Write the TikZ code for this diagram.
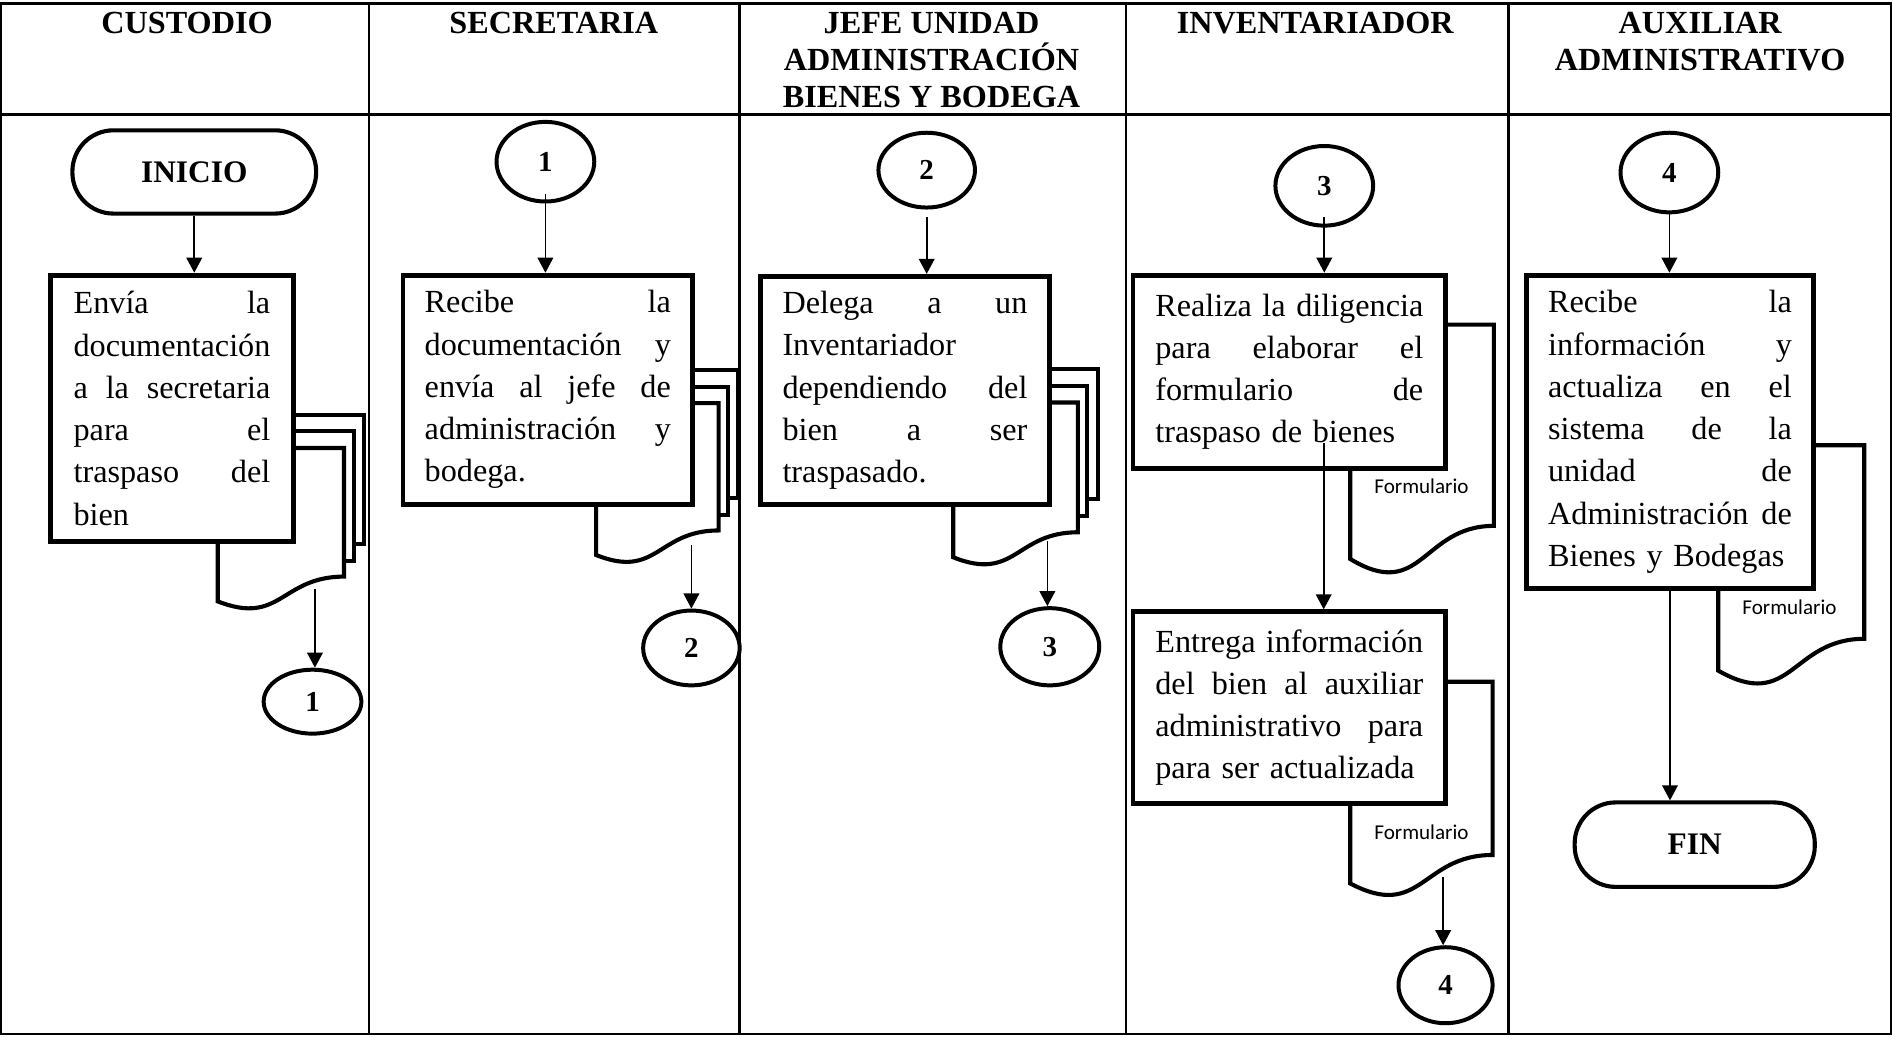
\documentclass[tikz,border=0pt]{standalone}
\usepackage{fontspec}
\setmainfont{Liberation Serif}
\newfontfamily\formfont{Carlito}
\usetikzlibrary{arrows.meta,shapes.geometric}

\newcommand\bodytext{\fontsize{26.7}{35}\selectfont}
\newcommand\headtext{\fontsize{26.7}{30.5}\selectfont\bfseries}
% one fully justified line inside a process box
\newcommand\jl[1]{\noindent\hbox to \hsize{\spaceskip=0.25em plus 1fil\relax #1}}

% Multiple-document symbol: #1,#2 = top left corner, #3 = width, #4 = height
\newcommand\multidoc[4]{%
  \draw[docline] ({#1+0.1376*#3},{#2+0.084*#4}) -- ({#1+0.1376*#3},#2) -- ({#1+#3},#2)
     -- ({#1+#3},{#2+0.666*#4}) -- ({#1+0.926*#3},{#2+0.666*#4});
  \draw[docline] ({#1+0.0709*#3},{#2+0.17*#4}) -- ({#1+0.0709*#3},{#2+0.084*#4}) -- ({#1+0.926*#3},{#2+0.084*#4})
     -- ({#1+0.926*#3},{#2+0.752*#4}) -- ({#1+0.861*#3},{#2+0.752*#4});
  \draw[docline, fill=white] (#1,{#2+0.17*#4}) -- ({#1+0.861*#3},{#2+0.17*#4}) -- ({#1+0.861*#3},{#2+0.834*#4})
     .. controls ({#1+0.4305*#3},{#2+0.834*#4}) and ({#1+0.4305*#3},{#2+1.09*#4}) .. (#1,{#2+0.962*#4}) -- cycle;
}
% Single document symbol: #1,#2 = top left corner, #3 = width, #4 = height
\newcommand\docsheet[4]{%
  \draw[docline, fill=white] (#1,#2) -- ({#1+#3},#2) -- ({#1+#3},{#2+0.802*#4})
     .. controls ({#1+0.5*#3},{#2+0.802*#4}) and ({#1+0.5*#3},{#2+1.107*#4}) .. (#1,{#2+0.934*#4}) -- cycle;
}

\begin{document}
\begin{tikzpicture}[x=1pt,y=-1pt,
  gridline/.style={line width=2pt},
  docline/.style={line width=3.4pt},
  procbox/.style={draw, line width=4pt, fill=white, inner sep=0pt, align=left, font=\bodytext},
  connector/.style={draw, ellipse, line width=3.3pt, fill=white, inner sep=0pt,
    font=\fontsize{24}{24}\selectfont\bfseries},
  terminal/.style={draw, rectangle, rounded corners=34pt, line width=3.4pt, fill=white,
    inner sep=0pt, font=\fontsize{26}{26}\selectfont\bfseries},
  head/.style={anchor=north, inner sep=0pt, align=center, font=\headtext},
  formlabel/.style={inner sep=0pt, font=\formfont\fontsize{17.5}{17.5}\selectfont},
  flow/.style={-{Triangle[length=12.5pt,width=13pt]}, line width=1.4pt},
]
\fill[white] (0,0) rectangle (1568,859);
\useasboundingbox (0,0) rectangle (1568,859);

% swimlane table
\draw[gridline] (1,3) rectangle (1567,857);
\draw[gridline] (1,95) -- (1567,95);
\foreach \lx in {306,613,933,1250} \draw[gridline] (\lx,3) -- (\lx,857);

% lane headings
\node[head] (hcus) at (155,10) {CUSTODIO};
\node[head] (hsec) at (459,10) {SECRETARIA};
\node[head] (hjef) at (772,10) {JEFE UNIDAD\\ADMINISTRACIÓN\\BIENES Y BODEGA};
\node[head] (hinv) at (1090,10) {INVENTARIADOR};
\node[head] (haux) at (1409,10) {AUXILIAR\\ADMINISTRATIVO};

% document symbols (drawn first, the process boxes sit on top)
\multidoc{180.5}{344}{121.5}{160.5}
\multidoc{494}{307}{118}{159}
\multidoc{790}{306}{120}{162}
\docsheet{1119}{269}{119}{208}
\docsheet{1119}{565}{118}{179}
\docsheet{1424}{369}{121}{200}

% CUSTODIO
\node[terminal, minimum width=202pt, minimum height=69pt] (inicio) at (161,142.5) {\raisebox{-2pt}{INICIO}};
\node[procbox, minimum width=201pt, minimum height=221pt, text width=163pt] (envia) at (142.5,338.5)
  {\jl{Envía la}\\ documentación\\ \jl{a la secretaria}\\ \jl{para el}\\ \jl{traspaso del}\\ bien};
\coordinate (envout) at (261,488);
\node[connector, minimum width=81pt, minimum height=53pt] (cA) at (259,581.5) {1};

% SECRETARIA
\node[connector, minimum width=81pt, minimum height=66pt] (cAin) at (452,134) {1};
\node[procbox, minimum width=240pt, minimum height=190pt, text width=204pt] (recibe) at (454,323)
  {\jl{Recibe la}\\ \jl{documentación y}\\ \jl{envía al jefe de}\\ \jl{administración y}\\ bodega.};
\coordinate (recout) at (573,452);
\node[connector, minimum width=80pt, minimum height=62pt] (cB) at (573,537) {2};

% JEFE UNIDAD
\node[connector, minimum width=80pt, minimum height=62pt] (cBin) at (768,141) {2};
\node[procbox, minimum width=240pt, minimum height=189pt, text width=203pt] (delega) at (750,323.5)
  {\jl{Delega a un}\\ Inventariador\\ \jl{dependiendo del}\\ \jl{bien a ser}\\ traspasado.};
\coordinate (delout) at (868,448);
\node[connector, minimum width=82pt, minimum height=64pt] (cC) at (870,536) {3};

% INVENTARIADOR
\node[connector, minimum width=81pt, minimum height=66pt] (cCin) at (1097.5,154) {3};
\node[procbox, minimum width=259pt, minimum height=160pt, text width=222pt] (realiza) at (1068.5,308)
  {\jl{Realiza la diligencia}\\ \jl{para elaborar el}\\ \jl{formulario de}\\ traspaso de bienes};
\node[formlabel] (formA) at (1178,403) {Formulario};
\node[procbox, minimum width=259pt, minimum height=159pt, text width=222pt] (entrega) at (1068.5,586.5)
  {\jl{Entrega información}\\ \jl{del bien al auxiliar}\\ \jl{administrativo para}\\ para ser actualizada};
\node[formlabel] (formB) at (1178,690) {Formulario};
\coordinate (realout) at (1097,367);
\coordinate (entout) at (1196,727);
\node[connector, minimum width=78pt, minimum height=63pt] (cD) at (1198,816.5) {4};

% AUXILIAR ADMINISTRATIVO
\node[connector, minimum width=81pt, minimum height=66pt] (cDin) at (1383.5,143) {4};
\node[procbox, minimum width=238pt, minimum height=260pt, text width=202pt] (actualiza) at (1384,358)
  {\jl{Recibe la}\\ \jl{información y}\\ \jl{actualiza en el}\\ \jl{sistema de la}\\ \jl{unidad de}\\
   \jl{Administración de}\\ Bienes y Bodegas};
\node[formlabel] (formC) at (1483,503) {Formulario};
\node[terminal, minimum width=199pt, minimum height=70pt] (fin) at (1404.5,700) {FIN};

% flow lines
\draw[flow] (inicio.south) -- (inicio.south |- envia.north);
\draw[flow] (envout) -- (envout |- cA.north);
\draw[flow] ([yshift=8pt]cAin.south) -- (cAin.south |- recibe.north);
\draw[flow] (recout) -- (recout |- cB.north);
\draw[flow] ([yshift=-6pt]cBin.south) -- (cBin.south |- delega.north);
\draw[flow] (delout) -- (delout |- cC.north);
\draw[flow] ([yshift=9pt]cCin.south) -- (cCin.south |- realiza.north);
\draw[flow] (realout) -- (realout |- entrega.north);
\draw[flow] (entout) -- (entout |- cD.north);
\draw[flow] (cDin.south) -- (cDin.south |- actualiza.north);
\draw[flow] (actualiza.south) -- (actualiza.south |- fin.north);
\end{tikzpicture}
\end{document}
